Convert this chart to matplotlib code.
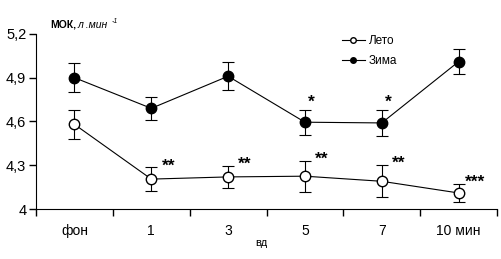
import matplotlib
matplotlib.use('Agg')
import matplotlib.pyplot as plt
from matplotlib.lines import Line2D
import numpy as np

plt.rcParams['font.family'] = ['Liberation Sans', 'DejaVu Sans']

# data (л/мин)
labels = ['фон', '1', '3', '5', '7', '10 мин']
summer = [4.58, 4.205, 4.22, 4.225, 4.19, 4.11]
summer_err = [0.10, 0.08, 0.075, 0.105, 0.11, 0.06]
winter = [4.90, 4.69, 4.91, 4.595, 4.59, 5.01]
winter_err = [0.10, 0.08, 0.095, 0.085, 0.09, 0.085]
summer_marks = ['', '**', '**', '**', '**', '***']
winter_marks = ['', '', '', '*', '*', '']
yticks = [4.0, 4.3, 4.6, 4.9, 5.2]
ytick_labels = ['4', '4,3', '4,6', '4,9', '5,2']

fig = plt.figure(figsize=(5.01, 2.59), dpi=100, facecolor='w')
ax = fig.add_axes([0.072, 0.193, 0.920, 0.676])

x = np.arange(len(labels))

ax.errorbar(x, winter, yerr=winter_err, color='k', lw=0.8, elinewidth=0.8,
            capsize=4, capthick=0.8, marker='o', ms=7.5, mfc='k', mec='k')
ax.errorbar(x, summer, yerr=summer_err, color='k', lw=0.8, elinewidth=0.8,
            capsize=4, capthick=0.8, marker='o', ms=7.5, mfc='w', mec='k')

# significance marks
for i in range(len(x)):
    if summer_marks[i]:
        ax.text(x[i] + 0.22, summer[i] + summer_err[i] - 0.04, summer_marks[i],
                ha='center', va='bottom', fontsize=12.5, fontweight='bold')
    if winter_marks[i]:
        ax.text(x[i] + 0.08, winter[i] + winter_err[i] + 0.0, winter_marks[i],
                ha='center', va='bottom', fontsize=12.5, fontweight='bold')

ax.set_xlim(-0.5, len(labels) - 0.5)
ax.set_ylim(4.0, 5.2)
ax.set_yticks(yticks)
ax.set_yticklabels(ytick_labels, fontsize=10.5)
ax.set_xticks(x)
ax.set_xticklabels(labels, fontsize=10)
ax.set_xticks(np.arange(len(labels) + 1) - 0.5, minor=True)
ax.tick_params(axis='x', which='major', length=0, pad=11)
ax.tick_params(axis='x', which='minor', length=5, width=1)
ax.tick_params(axis='y', length=5, width=1, pad=2)
ax.spines['top'].set_visible(False)
ax.spines['right'].set_visible(False)

fig.text(0.101, 0.905, 'МОК,', fontsize=7.5, fontweight='bold', va='center')
fig.text(0.155, 0.905, 'л .мин', fontsize=7.5, style='italic', va='center')
fig.text(0.222, 0.918, '-1', fontsize=5, style='italic', va='center')
fig.text(0.521, 0.06, 'вд', fontsize=8, ha='center', va='center')

handles = [Line2D([], [], color='k', lw=0.8, marker='o', ms=4, mfc='w', mec='k'),
           Line2D([], [], color='k', lw=0.8, marker='o', ms=4, mfc='k', mec='k')]
ax.legend(handles, ['Лето', 'Зима'], loc='upper left', bbox_to_anchor=(0.64, 1.055),
          frameon=False, fontsize=8.5, handlelength=2.0, labelspacing=0.7, handletextpad=0.3)

fig.savefig('out.png', dpi=100)
